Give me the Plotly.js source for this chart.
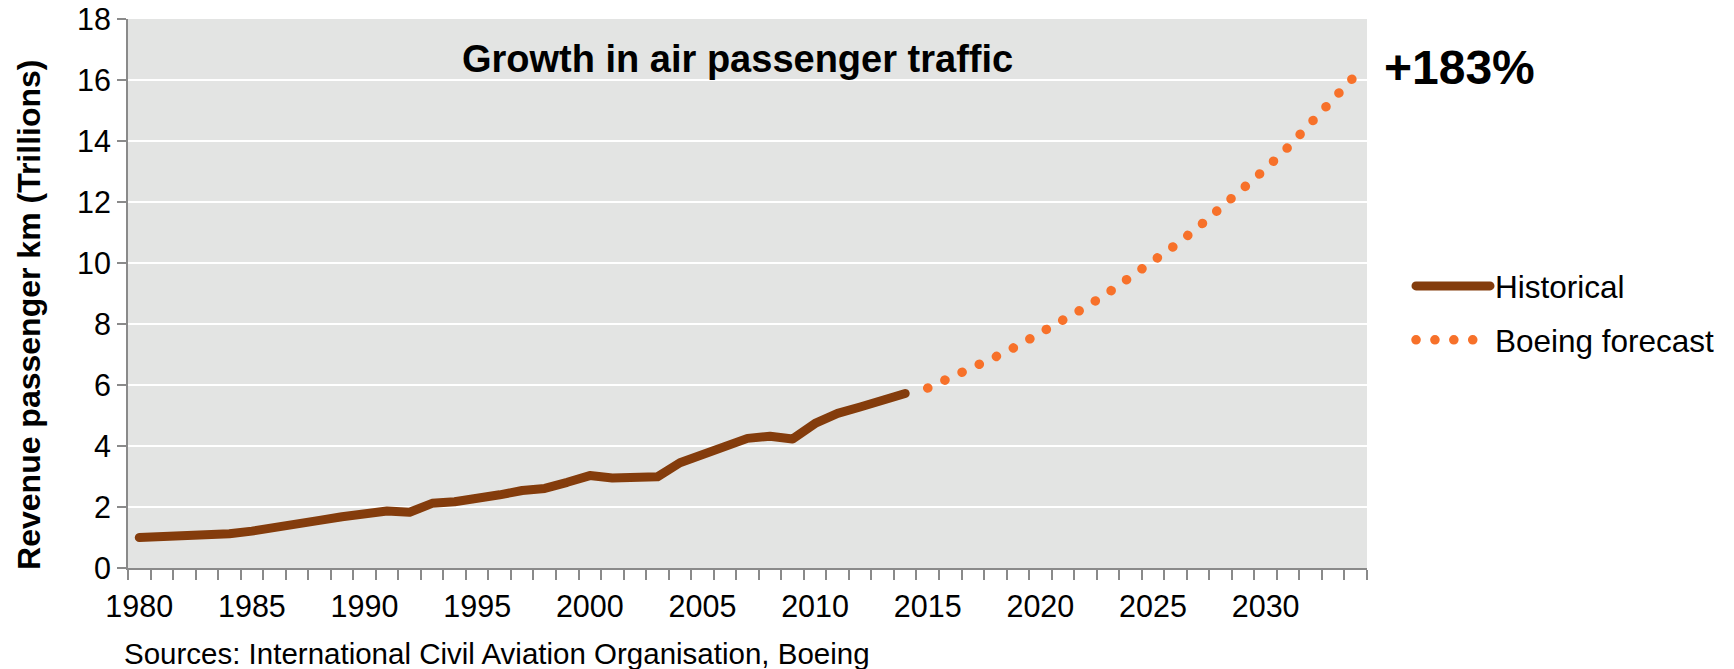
<!DOCTYPE html>
<html>
<head>
<meta charset="utf-8">
<script src="https://cdn.plot.ly/plotly-3.0.1.min.js"></script>
<style>
  html, body { margin: 0; padding: 0; background: #ffffff; }
  #chart { width: 1734px; height: 669px; }
  .js-line { stroke-linecap: round; stroke-linejoin: round; }
</style>
</head>
<body>
<div id="chart"></div>
<script>
// Historical revenue passenger km (trillions), 1980-2014
const histYears = [1980,1981,1982,1983,1984,1985,1986,1987,1988,1989,1990,1991,1992,1993,1994,1995,1996,1997,1998,1999,2000,2001,2002,2003,2004,2005,2006,2007,2008,2009,2010,2011,2012,2013,2014];
const histValues = [1.00,1.03,1.04,1.05,1.12,1.21,1.31,1.39,1.56,1.68,1.77,1.87,1.83,2.12,2.17,2.26,2.40,2.54,2.61,2.81,3.03,2.95,2.94,2.99,3.45,3.73,3.97,4.25,4.32,4.23,4.74,5.07,5.28,5.50,5.72];

// Boeing forecast, 2015-2034
const fcYears = [2015,2016,2017,2018,2019,2020,2021,2022,2023,2024,2025,2026,2027,2028,2029,2030,2031,2032,2033,2034];
const fcValues = [5.90,6.22,6.56,6.92,7.29,7.69,8.12,8.55,9.02,9.52,10.04,10.59,11.17,11.78,12.41,13.09,13.80,14.55,15.36,16.16];

const xTickVals = [1980,1985,1990,1995,2000,2005,2010,2015,2020,2025,2030];
const xTickText = ["1980","1985","1990","1995","2000","2005","2010","2015","2020","2025","2030"];
const yTickVals = [0,2,4,6,8,10,12,14,16,18];

const seriesNames = ["Historical", "Boeing forecast"];
const chartTitle = "Growth in air passenger traffic";
const yTitle = "Revenue passenger km (Trillions)";
const growthLabel = "+183%";
const sourceText = "Sources: International Civil Aviation Organisation, Boeing";

const FONT = "Liberation Sans, Arial, Helvetica, sans-serif";
const AXIS_GREY = "#8a8a8a";

const traces = [
  {
    x: histYears, y: histValues, name: seriesNames[0],
    type: "scatter", mode: "lines",
    line: { color: "#843C0C", width: 9 },
    legendgroup: "a", hoverinfo: "x+y"
  },
  {
    x: fcYears, y: fcValues, name: seriesNames[1],
    type: "scatter", mode: "lines",
    line: { color: "#F7712A", width: 9.5, dash: "0.1px,18.8px" },
    legendgroup: "b", hoverinfo: "x+y"
  }
];

const layout = {
  width: 1734, height: 669,
  margin: { l: 128, r: 367, t: 19, b: 101, pad: 0 },
  paper_bgcolor: "#ffffff",
  plot_bgcolor: "#e3e4e3",
  font: { family: FONT, size: 30, color: "#000000" },
  showlegend: true,
  legend: {
    x: 1.0355, xanchor: "left", y: 0.563, yanchor: "top",
    font: { family: FONT, size: 31.5, color: "#000000" },
    itemwidth: 74, traceorder: "grouped", tracegroupgap: 10,
    bgcolor: "rgba(0,0,0,0)"
  },
  xaxis: {
    range: [1979.5, 2034.5],
    tickmode: "array", tickvals: xTickVals, ticktext: xTickText,
    ticks: "outside", ticklen: 10, tickcolor: "rgba(0,0,0,0)",
    showgrid: false, zeroline: false,
    showline: true, linecolor: AXIS_GREY, linewidth: 2,
    tickfont: { family: FONT, size: 30.5, color: "#000000" },
    minor: { tickmode: "linear", tick0: 1979.5, dtick: 1, ticks: "outside", ticklen: 10, tickcolor: AXIS_GREY, tickwidth: 2, showgrid: false },
    fixedrange: true
  },
  yaxis: {
    range: [0, 18],
    tickmode: "array", tickvals: yTickVals,
    ticks: "outside", ticklen: 9, tickcolor: AXIS_GREY, tickwidth: 2,
    showgrid: true, gridcolor: "#ffffff", gridwidth: 2,
    zeroline: false,
    showline: true, linecolor: AXIS_GREY, linewidth: 2,
    tickfont: { family: FONT, size: 30.5, color: "#000000" },
    fixedrange: true
  },
  annotations: [
    { text: chartTitle, xref: "paper", yref: "paper", x: 0.492, y: 0.928, xanchor: "center", yanchor: "middle",
      showarrow: false, font: { family: FONT, size: 38, color: "#000000", weight: "bold" } },
    { text: growthLabel, xref: "paper", yref: "paper", x: 1.0748, y: 0.912, xanchor: "center", yanchor: "middle",
      showarrow: false, font: { family: FONT, size: 48, color: "#000000", weight: "bold" } },
    { text: yTitle, xref: "paper", yref: "paper", x: -0.0799, y: 0.461, xanchor: "center", yanchor: "middle",
      textangle: -90, showarrow: false, font: { family: FONT, size: 32, color: "#000000", weight: "bold" } },
    { text: sourceText, xref: "paper", yref: "paper", x: -0.0045, y: -0.156, xanchor: "left", yanchor: "middle",
      showarrow: false, font: { family: FONT, size: 29.5, color: "#000000" } }
  ]
};

Plotly.newPlot("chart", traces, layout, { displayModeBar: false, staticPlot: true });
</script>
</body>
</html>
